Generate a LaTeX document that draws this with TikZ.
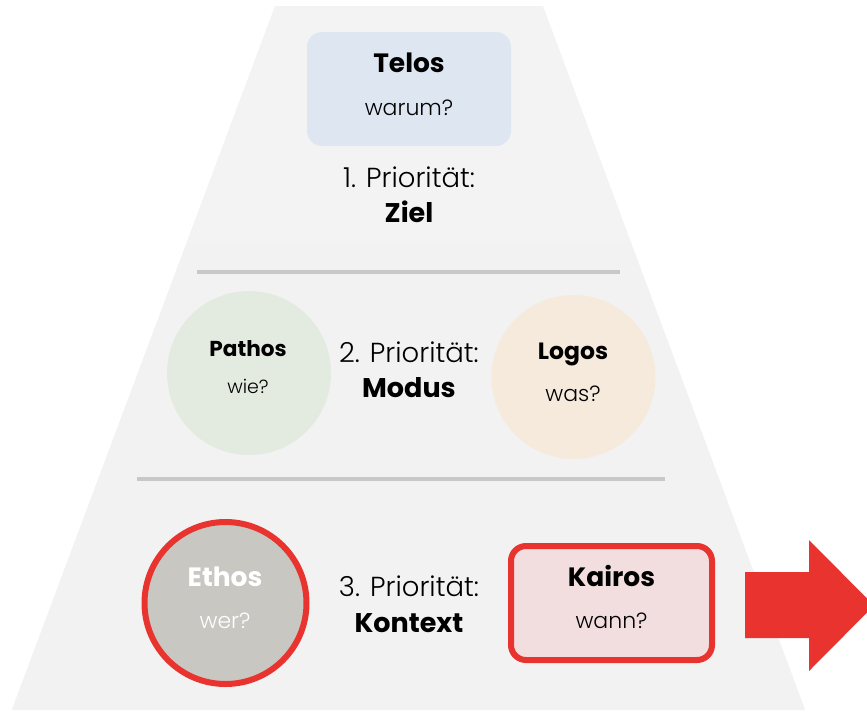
\documentclass[tikz,border=0pt]{standalone}
\usepackage{fontspec}
\setmainfont{Poppins}
\newfontfamily\lightfont{Poppins Light}

\definecolor{tierA}{HTML}{F3F3F3}
\definecolor{tierB}{HTML}{F2F2F2}
\definecolor{tierC}{HTML}{F2F2F2}
\definecolor{telosfill}{HTML}{DEE7F1}
\definecolor{pathosfill}{HTML}{E3EBE0}
\definecolor{logosfill}{HTML}{F6EADD}
\definecolor{ethosfill}{HTML}{C8C7C2}
\definecolor{kairosfill}{HTML}{F2DEDF}
\definecolor{accent}{HTML}{E8332F}
\definecolor{divider}{HTML}{C8C8C8}

\tikzset{
  title/.style={anchor=base, inner sep=0pt, font=\fontsize{26.5}{30}\selectfont\bfseries},
  question/.style={anchor=base, inner sep=0pt, font=\fontsize{22}{26}\selectfont\lightfont},
  prio/.style={anchor=base, inner sep=0pt, font=\fontsize{27.5}{32}\selectfont\lightfont},
  priokey/.style={anchor=base, inner sep=0pt, font=\fontsize{27}{31}\selectfont\bfseries},
  rule/.style={divider, line width=4pt},
  roundbox/.style={rectangle, rounded corners=15pt, inner sep=0pt},
  disc/.style={circle, inner sep=0pt},
}

\begin{document}
\begin{tikzpicture}[x=1pt,y=-1pt]
  \useasboundingbox (0,0) rectangle (867,713);

  % pyramid, three tiers
  \fill[tierA] (275,6) -- (543,6) -- (631.3,243) -- (186.4,243) -- cycle;
  \fill[tierB] (186.4,243) -- (631.3,243) -- (719.6,480) -- (97.7,480) -- cycle;
  \fill[tierC] (97.7,480) -- (719.6,480) -- (805.2,710) -- (11.7,710) -- cycle;

  % separators between tiers
  \coordinate (r1a) at (197,272);
  \coordinate (r1b) at (620,272);
  \coordinate (r2a) at (137,479);
  \coordinate (r2b) at (665,479);
  \draw[rule] (r1a) -- (r1b);
  \draw[rule] (r2a) -- (r2b);

  % tier 1: Telos
  \node[roundbox, fill=telosfill, minimum width=204pt, minimum height=114pt] (telos) at (409,89) {};
  \node[title] (telosT) at (409,72) {Telos};
  \node[question] (telosQ) at (409,115) {warum?};
  \node[prio] (prio1) at (409,187) {1. Priorität:};
  \node[priokey] (key1) at (409,222) {Ziel};

  % tier 2: Pathos and Logos
  \node[disc, fill=pathosfill, minimum size=164pt] (pathos) at (249,373) {};
  \node[title, font=\fontsize{21.6}{25}\selectfont\bfseries] (pathosT) at (248,356) {Pathos};
  \node[question, font=\fontsize{19}{22}\selectfont\lightfont] (pathosQ) at (248,393) {wie?};
  \node[disc, fill=logosfill, minimum size=164pt] (logos) at (573.5,377) {};
  \node[title, font=\fontsize{23.5}{27}\selectfont\bfseries] (logosT) at (573,359) {Logos};
  \node[question] (logosQ) at (573,401) {was?};
  \node[prio] (prio2) at (409,362) {2. Priorität:};
  \node[priokey] (key2) at (409,397) {Modus};

  % tier 3: Ethos and Kairos
  \node[disc, fill=ethosfill, draw=accent, line width=6pt, minimum size=162pt] (ethos) at (225.5,603) {};
  \node[title, text=white] (ethosT) at (225,586) {Ethos};
  \node[question, text=white] (ethosQ) at (225,628) {wer?};
  \node[roundbox, fill=kairosfill, draw=accent, line width=6pt, minimum width=201pt, minimum height=114pt] (kairos) at (611.5,603) {};
  \node[title] (kairosT) at (611.5,586) {Kairos};
  \node[question] (kairosQ) at (611.5,628) {wann?};
  \node[prio] (prio3) at (409,596) {3. Priorität:};
  \node[priokey] (key3) at (409,632) {Kontext};

  % block arrow leaving the base
  \fill[accent] (745,572) -- (809,572) -- (809,540) -- (874,605.5) -- (809,671)
    -- (809,638) -- (745,638) -- cycle;
\end{tikzpicture}
\end{document}
